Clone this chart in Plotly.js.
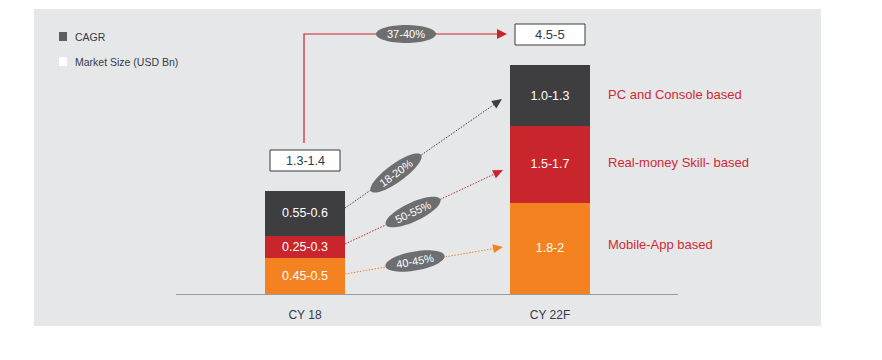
<!DOCTYPE html>
<html><head><meta charset="utf-8">
<script src="https://cdn.plot.ly/plotly-3.0.1.min.js"></script>
<style>html,body{margin:0;padding:0;background:#fff}</style>
</head><body><div id="chart" style="width:882px;height:360px"></div>
<script>
// ---- data ----
const categories = ['CY 18', 'CY 22F'];
const segmentNames = ['Mobile-App based', 'Real-money Skill- based', 'PC and Console based'];
// drawn bar heights (schematic chart units, as drawn in the picture)
const mobileHeights = [0.75, 1.9];
const skillHeights = [0.46, 1.6];
const pcHeights = [0.94, 1.27];
// market size labels (USD Bn)
const mobileLabels = ['0.45-0.5', '1.8-2'];
const skillLabels = ['0.25-0.3', '1.5-1.7'];
const pcLabels = ['0.55-0.6', '1.0-1.3'];
const totalLabels = ['1.3-1.4', '4.5-5'];
// CAGR labels
const totalCagr = '37-40%';
const segmentCagr = ['40-45%', '50-55%', '18-20%'];
const legendItems = ['CAGR', 'Market Size (USD Bn)'];

// ---- styles ----
const W = 882, H = 360;
const cOrange = '#f58220', cRed = '#c9252c', cDark = '#3e3e40';
const cPill = '#6d6e70', cText = '#343a48', cLabelRed = '#cf2a36';
const FONT = '"Liberation Sans", Arial, sans-serif';
const px = x => x / W;
const py = y => 1 - y / H;

function mkBar(name, heights, labels, color) {
  return {
    type: 'bar', name: name, x: categories, y: heights, text: labels,
    textposition: 'inside', insidetextanchor: 'middle', constraintext: 'none',
    textfont: {color: '#ffffff', size: 12.5, family: FONT},
    marker: {color: color, line: {width: 0}}, width: 0.3265,
    hoverinfo: 'skip', cliponaxis: false
  };
}
const traces = [
  mkBar(segmentNames[0], mobileHeights, mobileLabels, cOrange),
  mkBar(segmentNames[1], skillHeights, skillLabels, cRed),
  mkBar(segmentNames[2], pcHeights, pcLabels, cDark)
];

function ellipsePath(cx, cy, rx, ry, deg) {
  const a = deg * Math.PI / 180; let d = '';
  for (let i = 0; i <= 64; i++) {
    const t = i / 64 * 2 * Math.PI;
    const ex = rx * Math.cos(t), ey = ry * Math.sin(t);
    const x = cx + ex * Math.cos(a) - ey * Math.sin(a);
    const y = cy + ex * Math.sin(a) + ey * Math.cos(a);
    d += (i ? 'L' : 'M') + px(x).toFixed(5) + ',' + py(y).toFixed(5);
  }
  return d + 'Z';
}
function triangle(x1, y1, ux, uy, len, hw, color) {
  const bx = x1 - ux * len, by = y1 - uy * len;
  const p = [[x1, y1], [bx - uy * hw, by + ux * hw], [bx + uy * hw, by - ux * hw]];
  return {type: 'path', xref: 'paper', yref: 'paper', layer: 'above',
    path: 'M' + p.map(q => px(q[0]).toFixed(5) + ',' + py(q[1]).toFixed(5)).join('L') + 'Z',
    fillcolor: color, line: {width: 0}};
}
function dottedArrow(x0, y0, x1, y1, color) {
  const L = Math.hypot(x1 - x0, y1 - y0), ux = (x1 - x0) / L, uy = (y1 - y0) / L;
  return [
    {type: 'line', xref: 'paper', yref: 'paper', layer: 'above',
      x0: px(x0), y0: py(y0), x1: px(x1 - ux * 9), y1: py(y1 - uy * 9),
      line: {color: color, width: 1, dash: '1.5px,1.5px'}},
    triangle(x1, y1, ux, uy, 10, 4.5, color)
  ];
}

const shapes = [
  {type: 'rect', xref: 'paper', yref: 'paper', layer: 'below',
    x0: px(34), x1: px(821), y0: py(326), y1: py(9), fillcolor: '#e6e7e8', line: {width: 0}},
  // legend keys
  {type: 'rect', xref: 'paper', yref: 'paper', x0: px(59), x1: px(67), y0: py(41), y1: py(32),
    fillcolor: '#5d5e60', line: {width: 0}},
  {type: 'rect', xref: 'paper', yref: 'paper', x0: px(59), x1: px(67), y0: py(66), y1: py(57),
    fillcolor: '#ffffff', line: {width: 0}},
  // total growth arrow
  {type: 'path', xref: 'paper', yref: 'paper', layer: 'above',
    path: 'M' + px(304) + ',' + py(143) + 'L' + px(304) + ',' + py(34) + 'L' + px(498) + ',' + py(34),
    line: {color: cRed, width: 1.2}},
  triangle(507, 34, 1, 0, 10, 5, cRed),
  ...dottedArrow(345, 208, 502, 99, cDark),
  ...dottedArrow(345, 244, 503, 170, cRed),
  ...dottedArrow(345, 274, 503, 247, cOrange),
  // pills
  {type: 'path', xref: 'paper', yref: 'paper', layer: 'above', path: ellipsePath(406, 34, 30, 9, 0), fillcolor: cPill, line: {width: 0}},
  {type: 'path', xref: 'paper', yref: 'paper', layer: 'above', path: ellipsePath(396, 173, 31, 9, -36), fillcolor: cPill, line: {width: 0}},
  {type: 'path', xref: 'paper', yref: 'paper', layer: 'above', path: ellipsePath(413, 212, 30, 9.5, -25), fillcolor: cPill, line: {width: 0}},
  {type: 'path', xref: 'paper', yref: 'paper', layer: 'above', path: ellipsePath(415, 261, 30, 9.5, -10), fillcolor: cPill, line: {width: 0}},
  // total boxes
  {type: 'rect', xref: 'paper', yref: 'paper', layer: 'above', x0: px(270), x1: px(340), y0: py(171), y1: py(150),
    fillcolor: '#ffffff', line: {color: '#3a3a3a', width: 1}},
  {type: 'rect', xref: 'paper', yref: 'paper', layer: 'above', x0: px(515), x1: px(585), y0: py(45), y1: py(24),
    fillcolor: '#ffffff', line: {color: '#3a3a3a', width: 1}}
];

function txt(x, y, text, size, color, extra) {
  return Object.assign({xref: 'paper', yref: 'paper', x: px(x), y: py(y), text: text, showarrow: false,
    xanchor: 'center', yanchor: 'middle', font: {size: size, color: color, family: FONT}}, extra || {});
}
const annotations = [
  txt(73, 37, legendItems[0], 10.5, cText, {xanchor: 'left'}),
  txt(73, 62, legendItems[1], 10.5, cText, {xanchor: 'left'}),
  txt(406, 34, totalCagr, 11, '#ffffff'),
  txt(396, 173, segmentCagr[2], 11, '#ffffff', {textangle: -36}),
  txt(413, 212, segmentCagr[1], 11, '#ffffff', {textangle: -25}),
  txt(415, 261, segmentCagr[0], 11, '#ffffff', {textangle: -10}),
  txt(305, 160.5, totalLabels[0], 12.5, '#2e3a4c'),
  txt(550, 34.5, totalLabels[1], 13, '#2e3a4c'),
  txt(606, 95, segmentNames[2], 13, cLabelRed, {xanchor: 'left'}),
  txt(606, 163, segmentNames[1], 13, cLabelRed, {xanchor: 'left'}),
  txt(606, 244, segmentNames[0], 13, cLabelRed, {xanchor: 'left'})
];

const layout = {
  width: W, height: H, margin: {l: 0, r: 0, t: 0, b: 0, pad: 0},
  paper_bgcolor: '#ffffff', plot_bgcolor: 'rgba(0,0,0,0)',
  barmode: 'stack', showlegend: false,
  font: {family: FONT, color: cText},
  xaxis: {domain: [176 / W, 678 / W], type: 'category', range: [-0.5265, 1.5224],
    showline: true, linecolor: '#9a9a9a', linewidth: 1, ticks: '', showgrid: false, zeroline: false,
    tickfont: {size: 12, color: cText, family: FONT}, ticklabelstandoff: 10, fixedrange: true},
  yaxis: {domain: [66 / H, 1], range: [0, 294 / 48], visible: false, fixedrange: true},
  shapes: shapes, annotations: annotations
};
Plotly.newPlot('chart', traces, layout, {displayModeBar: false, staticPlot: true});
</script></body></html>
